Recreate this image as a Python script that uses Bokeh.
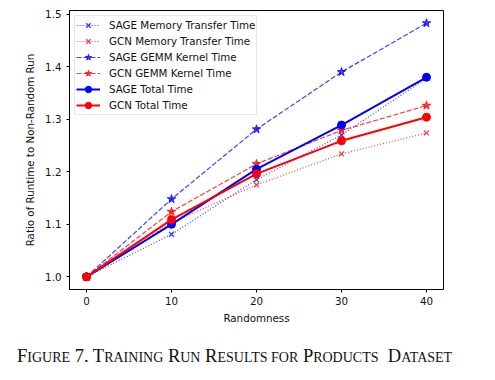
from bokeh.plotting import figure
from bokeh.models import Range1d, FixedTicker, ColumnDataSource, Legend, Div
from bokeh.layouts import column
from bokeh.embed import file_html
from bokeh.resources import INLINE

# ---- data ----
randomness = [0, 10, 20, 30, 40]
sage_mem = [1.0, 1.081, 1.185, 1.270, 1.378]
gcn_mem = [1.0, 1.103, 1.175, 1.234, 1.274]
sage_gemm = [1.0, 1.148, 1.281, 1.390, 1.483]
gcn_gemm = [1.0, 1.124, 1.215, 1.279, 1.326]
sage_total = [1.0, 1.100, 1.205, 1.289, 1.380]
gcn_total = [1.0, 1.109, 1.196, 1.259, 1.304]
x_ticks = [0, 10, 20, 30, 40]
y_ticks = [1.0, 1.1, 1.2, 1.3, 1.4, 1.5]
y_tick_labels = ["1.0", "1.1", "1.2", "1.3", "1.4", "1.5"]
# caption in small caps: (text, is_capital_size)
caption_runs = [("F", True), ("IGURE", False), (" 7. T", True), ("RAINING", False),
                (" R", True), ("UN", False), (" R", True), ("ESULTS FOR", False),
                (" P", True), ("RODUCTS", False), ("&nbsp; D", True), ("ATASET", False)]

FONT = "DejaVu Sans"
FS = "10.3px"

p = figure(frame_width=374, frame_height=279, output_backend="svg",
           toolbar_location=None, x_range=Range1d(-2, 42),
           y_range=Range1d(0.9759, 1.5071),
           min_border_left=69, min_border_right=52, min_border_top=10,
           min_border_bottom=41)
p.background_fill_color = "white"
p.border_fill_color = "white"
p.grid.visible = False
p.outline_line_color = "black"
p.outline_line_width = 1

for ax in (p.xaxis[0], p.yaxis[0]):
    ax.axis_line_color = "black"
    ax.major_tick_line_color = "black"
    ax.major_tick_out = 3
    ax.major_tick_in = 0
    ax.minor_tick_line_color = None
    ax.major_label_text_font = FONT
    ax.major_label_text_font_size = FS
    ax.major_label_text_color = "#111111"
    ax.axis_label_text_font = FONT
    ax.axis_label_text_font_size = FS
    ax.axis_label_text_font_style = "normal"
    ax.axis_label_text_color = "#111111"

p.xaxis.ticker = FixedTicker(ticks=x_ticks)
p.yaxis.ticker = FixedTicker(ticks=y_ticks)
p.yaxis.major_label_overrides = {t: l for t, l in zip(y_ticks, y_tick_labels)}
p.xaxis.axis_label = "Randomness"
p.yaxis.axis_label = "Ratio of Runtime to Non-Random Run"
p.xaxis.major_label_standoff = 4
p.xaxis.axis_label_standoff = 4
p.yaxis.major_label_standoff = 5
p.yaxis.axis_label_standoff = 6

series = [
    ("SAGE Memory Transfer Time", sage_mem, "blue", "1 2", 1.2, 0.75, "x", 7),
    ("GCN Memory Transfer Time", gcn_mem, "red", "1 2", 1.2, 0.75, "x", 7),
    ("SAGE GEMM Kernel Time", sage_gemm, "blue", "5 2", 1.2, 0.75, "star", 9),
    ("GCN GEMM Kernel Time", gcn_gemm, "red", "5 2", 1.2, 0.75, "star", 9),
    ("SAGE Total Time", sage_total, "blue", "solid", 2.0, 1.0, "circle", 8),
    ("GCN Total Time", gcn_total, "red", "solid", 2.0, 1.0, "circle", 8),
]

items = []
for label, ys, color, dash, lw, alpha, marker, size in series:
    src = ColumnDataSource(dict(x=randomness, y=ys))
    r1 = p.line("x", "y", source=src, line_color=color, line_dash=dash,
                line_width=lw, line_alpha=alpha)
    r2 = p.scatter("x", "y", source=src, marker=marker, size=size,
                   line_color=color, fill_color=color, line_alpha=alpha,
                   fill_alpha=alpha, line_width=1.3 if marker == "x" else 1)
    items.append((label, [r1, r2]))

legend = Legend(items=items, location="top_left")
legend.margin = 5
legend.padding = 1
legend.spacing = 0
legend.label_height = 16
legend.glyph_height = 16
legend.glyph_width = 24
legend.label_standoff = 9
legend.label_text_font = FONT
legend.label_text_font_size = FS
legend.label_text_color = "#111111"
legend.border_line_color = "#cccccc"
legend.border_line_width = 1
legend.background_fill_color = "white"
legend.background_fill_alpha = 0.8
p.add_layout(legend, "center")

# ---- caption ----
html = "".join(t if big else f"<span style='font-size:14px'>{t}</span>"
               for t, big in caption_runs)
cap = Div(text=html, width=495, height=50,
          styles={"font-family": "'Liberation Serif'", "font-size": "18.5px",
                  "color": "#111111", "padding-left": "17px", "padding-top": "16px",
                  "line-height": "normal", "white-space": "nowrap",
                  "margin": "0px"})

layout = column(p, cap, spacing=0)
open("out.html", "w").write(file_html(layout, INLINE))
